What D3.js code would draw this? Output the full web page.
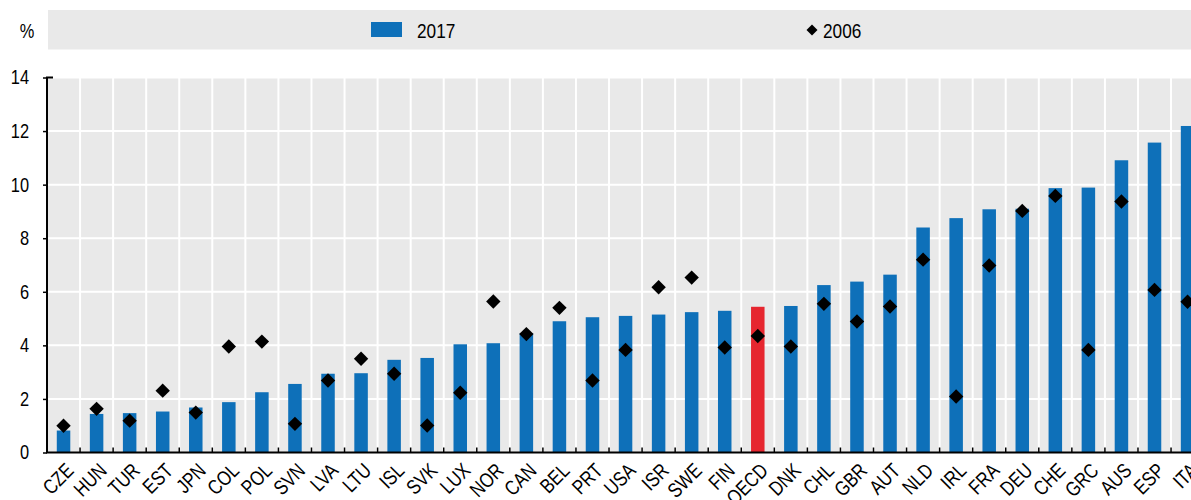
<meta charset="utf-8">
<style>
body { margin: 0; background: #fff; }
text { font-family: "Liberation Sans", Arial, sans-serif; fill: #000; }
</style>
<body>
<div id="chart"></div>
<script src="https://cdn.jsdelivr.net/npm/d3@7"></script>
<script>
// values
var countries = ["CZE","HUN","TUR","EST","JPN","COL","POL","SVN","LVA","LTU","ISL","SVK","LUX","NOR","CAN","BEL","PRT","USA","ISR","SWE","FIN","OECD","DNK","CHL","GBR","AUT","NLD","IRL","FRA","DEU","CHE","GRC","AUS","ESP","ITA"];
var v2017 = [0.82,1.44,1.47,1.53,1.68,1.88,2.25,2.56,2.94,2.96,3.46,3.53,4.04,4.08,4.45,4.90,5.05,5.10,5.15,5.24,5.29,5.44,5.47,6.25,6.38,6.64,8.40,8.75,9.08,9.10,9.87,9.89,10.91,11.57,12.19];
var v2006 = [1.0,1.63,1.19,2.31,1.49,3.96,4.14,1.07,2.69,3.50,2.94,1.01,2.23,5.64,4.42,5.40,2.69,3.83,6.17,6.53,3.92,4.35,3.96,5.55,4.89,5.45,7.20,2.09,6.98,9.02,9.58,3.83,9.37,6.07,5.63];
var yTicks = [0,2,4,6,8,10,12,14];
var seriesNames = ["2017","2006"];

var width = 1191, height = 500;
var plotLeft = 47, plotTop = 77.5, plotBottom = 452.5;
var step = 33.06;
var narrow = 0.82;   // no Arial Narrow here, squeeze Liberation Sans instead

var svg = d3.select("#chart").append("svg")
    .attr("width", width)
    .attr("height", height);

var x = d3.scaleBand()
    .domain(countries)
    .range([plotLeft, plotLeft + countries.length * step])
    .padding(0);

var y = d3.scaleLinear()
    .domain([0, 14])
    .range([plotBottom, plotTop]);

var barW = 13.5;

// plot background
svg.append("rect")
    .attr("x", plotLeft)
    .attr("y", plotTop)
    .attr("width", width - plotLeft)
    .attr("height", plotBottom - plotTop)
    .style("fill", "#e9e9e9");

// grid
svg.append("g").selectAll("line")
    .data(yTicks.filter(function(d) { return d > 0; }))
    .enter().append("line")
    .attr("x1", plotLeft).attr("x2", width)
    .attr("y1", function(d) { return y(d); })
    .attr("y2", function(d) { return y(d); })
    .style("stroke", "#fff").style("stroke-width", 2);

svg.append("g").selectAll("line")
    .data(countries.slice(1))
    .enter().append("line")
    .attr("x1", function(d) { return x(d); })
    .attr("x2", function(d) { return x(d); })
    .attr("y1", plotTop).attr("y2", plotBottom)
    .style("stroke", "#fff").style("stroke-width", 2);

// bars 2017
svg.append("g").selectAll("rect")
    .data(countries)
    .enter().append("rect")
    .attr("x", function(d) { return x(d) + x.bandwidth() / 2 - barW / 2; })
    .attr("y", function(d, i) { return y(v2017[i]); })
    .attr("width", barW)
    .attr("height", function(d, i) { return plotBottom - y(v2017[i]); })
    .style("fill", function(d) { return d === "OECD" ? "#e6262f" : "#0e70b9"; });

// diamonds 2006
var dia = 7.2;
svg.append("g").selectAll("path")
    .data(countries)
    .enter().append("path")
    .attr("transform", function(d, i) {
        return "translate(" + (x(d) + x.bandwidth() / 2) + "," + y(v2006[i]) + ")";
    })
    .attr("d", "M0," + (-dia) + "L" + dia + ",0L0," + dia + "L" + (-dia) + ",0Z")
    .style("fill", "#000");

// y axis
var yaxis = d3.axisLeft(y).tickValues(yTicks).tickSize(4);
var gy = svg.append("g")
    .attr("transform", "translate(" + plotLeft + ",0)")
    .call(yaxis);
gy.select(".domain").remove();
gy.selectAll(".tick line").style("stroke", "#000").style("stroke-width", 1.5);
gy.selectAll(".tick text")
    .attr("x", -18 / narrow)
    .attr("transform", "scale(" + narrow + ",1)")
    .style("font-family", "'Liberation Sans', Arial, sans-serif")
    .style("font-size", "20px")
    .style("fill", "#000");
svg.append("path")
    .attr("d", "M" + (plotLeft + 6) + "," + plotTop + "H" + plotLeft + "V" + plotBottom)
    .style("fill", "none").style("stroke", "#000").style("stroke-width", 2);

// x axis
svg.append("line")
    .attr("x1", plotLeft - 1).attr("x2", width)
    .attr("y1", plotBottom).attr("y2", plotBottom)
    .style("stroke", "#000").style("stroke-width", 2);
svg.append("g").selectAll("line")
    .data(countries.slice(1))
    .enter().append("line")
    .attr("x1", function(d) { return x(d); })
    .attr("x2", function(d) { return x(d); })
    .attr("y1", plotBottom).attr("y2", plotBottom - 5)
    .style("stroke", "#000").style("stroke-width", 1.5);

svg.append("g").selectAll("text")
    .data(countries)
    .enter().append("text")
    .attr("transform", function(d) {
        return "translate(" + (x(d) + x.bandwidth() / 2 + 1) + "," + (plotBottom + 9) + ") rotate(-45) scale(" + narrow + ",1)";
    })
    .attr("dy", "0.72em")
    .style("text-anchor", "end")
    .style("font-size", "20.5px")
    .text(function(d) { return d; });

// legend
svg.append("rect")
    .attr("x", 48).attr("y", 10)
    .attr("width", width - 48).attr("height", 39.5)
    .style("fill", "#e9e9e9");
svg.append("text")
    .attr("transform", "translate(27,31) scale(" + narrow + ",1)")
    .attr("dy", "0.35em")
    .style("text-anchor", "middle")
    .style("font-size", "20px")
    .text("%");
svg.append("rect")
    .attr("x", 371).attr("y", 22)
    .attr("width", 31).attr("height", 15)
    .style("fill", "#0e70b9");
svg.append("text")
    .attr("transform", "translate(417,30) scale(" + narrow + ",1)")
    .attr("dy", "0.36em")
    .style("font-size", "21px")
    .text(seriesNames[0]);
svg.append("path")
    .attr("transform", "translate(812,30)")
    .attr("d", "M0,-5.5L5.5,0L0,5.5L-5.5,0Z")
    .style("fill", "#000");
svg.append("text")
    .attr("transform", "translate(823,30) scale(" + narrow + ",1)")
    .attr("dy", "0.36em")
    .style("font-size", "21px")
    .text(seriesNames[1]);
</script>
</body>
